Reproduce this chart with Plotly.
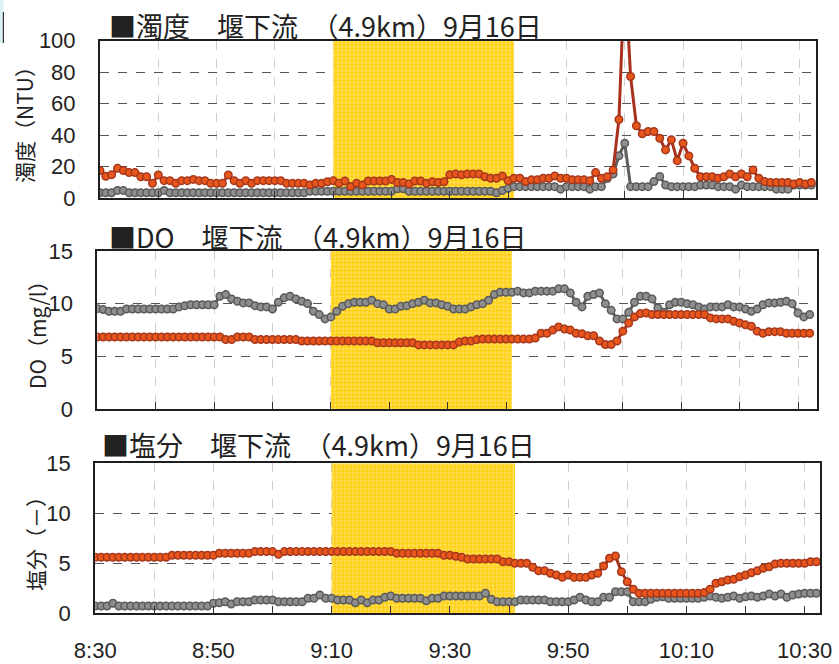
import plotly.graph_objects as go

# ---- time axis: one reading per minute from 8:30 ----
minutes = list(range(123))  # 8:30 ... 10:32
tick_minutes = list(range(0, 121, 10))
tick_text = ["8:30", "", "8:50", "", "9:10", "", "9:30", "", "9:50", "", "10:10", "", "10:30"]
shade_start, shade_end = 40, 71  # 9:10 - 9:41

# ---- 濁度 (NTU) ----
turbidity_a = [
    17.6, 14.0, 15.0, 19.0, 17.6, 16.3, 16.3, 13.7, 13.7, 9.5,
    14.8, 11.2, 11.2, 9.5, 11.2, 11.2, 12.0, 11.2, 11.2, 9.5,
    9.5, 9.5, 14.8, 11.2, 9.5, 11.2, 9.5, 11.2, 11.2, 11.2,
    11.2, 11.2, 9.5, 9.5, 9.5, 9.5, 8.5, 9.5, 9.5, 10.5,
    11.2, 9.5, 11.0, 7.5, 9.5, 8.5, 11.0, 11.0, 11.0, 11.0,
    12.0, 10.0, 10.0, 9.0, 11.0, 11.0, 9.5, 10.5, 10.0, 10.5,
    15.0, 15.4, 14.9, 15.4, 15.4, 15.4, 13.7, 12.7, 12.7, 14.2,
    11.2, 12.7, 12.7, 10.6, 11.7, 11.7, 12.7, 12.7, 14.2, 12.7,
    12.7, 11.7, 11.7, 11.7, 11.2, 16.3, 12.7, 13.7, 17.9, 50.0,
    145.0, 77.3, 46.0, 40.9, 42.4, 42.4, 38.1, 30.7, 37.1, 23.9,
    34.9, 26.9, 19.1, 13.7, 13.7, 13.7, 12.7, 13.7, 15.4, 13.7,
    15.4, 13.7, 17.9, 12.7, 10.6, 10.0, 10.0, 10.0, 10.0, 9.1,
    10.0, 9.1, 10.0,
]
turbidity_b = [
    3.5, 3.5, 3.5, 5.0, 5.0, 3.5, 3.5, 3.5, 3.5, 3.5,
    3.5, 5.0, 3.5, 3.5, 3.5, 3.5, 3.5, 3.5, 3.5, 3.5,
    3.5, 3.5, 3.5, 3.5, 3.5, 3.5, 3.5, 3.5, 3.5, 3.5,
    3.5, 3.5, 3.5, 3.5, 3.5, 3.5, 4.5, 4.5, 4.5, 4.5,
    4.5, 4.5, 4.5, 4.5, 4.5, 4.5, 4.5, 4.5, 4.5, 4.5,
    4.5, 6.0, 6.0, 4.5, 4.5, 4.5, 4.5, 4.5, 4.5, 4.5,
    4.5, 4.5, 4.5, 4.5, 4.5, 4.5, 4.5, 4.5, 3.5, 4.9,
    6.3, 7.4, 7.4, 7.4, 7.4, 7.4, 7.4, 7.4, 7.4, 5.8,
    7.4, 7.4, 7.4, 7.4, 5.8, 7.4, 7.4, 12.5, 15.4, 27.0,
    35.0, 7.4, 7.4, 7.4, 7.4, 10.6, 13.8, 8.4, 7.4, 7.4,
    7.4, 7.4, 7.4, 8.4, 8.4, 8.4, 7.4, 7.4, 7.4, 5.8,
    8.4, 7.4, 7.4, 7.4, 7.4, 7.4, 5.8, 5.8, 5.8, 8.4,
    8.4, 8.4, 8.4,
]

# ---- DO (mg/l) ----
do_a = [
    6.85, 6.85, 6.85, 6.85, 6.85, 6.85, 6.85, 6.85, 6.85, 6.85,
    6.85, 6.85, 6.85, 6.85, 6.85, 6.85, 6.85, 6.85, 6.85, 6.85,
    6.85, 6.85, 6.6, 6.6, 6.85, 6.85, 6.85, 6.6, 6.6, 6.6,
    6.6, 6.6, 6.6, 6.6, 6.6, 6.47, 6.47, 6.47, 6.47, 6.47,
    6.47, 6.47, 6.47, 6.47, 6.47, 6.47, 6.47, 6.47, 6.3, 6.3,
    6.3, 6.3, 6.3, 6.3, 6.3, 6.1, 6.1, 6.1, 6.1, 6.1,
    6.1, 6.1, 6.37, 6.47, 6.47, 6.6, 6.65, 6.65, 6.65, 6.65,
    6.65, 6.65, 6.65, 6.65, 6.65, 6.75, 7.2, 7.2, 7.5, 7.8,
    7.6, 7.5, 7.2, 7.15, 6.97, 6.97, 6.47, 6.14, 6.14, 6.47,
    7.4, 8.17, 8.75, 9.06, 9.12, 8.97, 8.97, 8.97, 8.97, 8.97,
    8.97, 8.97, 8.97, 8.97, 8.97, 8.65, 8.56, 8.56, 8.56, 8.33,
    8.17, 8.0, 7.86, 7.4, 7.2, 7.35, 7.35, 7.35, 7.2, 7.2,
    7.2, 7.2, 7.2,
]
do_b = [
    9.53, 9.44, 9.28, 9.28, 9.28, 9.5, 9.5, 9.5, 9.5, 9.5,
    9.5, 9.5, 9.5, 9.5, 9.69, 9.81, 9.9, 9.9, 9.9, 9.9,
    9.9, 10.7, 10.86, 10.45, 10.23, 10.07, 10.07, 9.81, 9.69, 9.69,
    9.5, 10.13, 10.55, 10.7, 10.45, 10.23, 10.01, 9.28, 8.97, 8.56,
    8.75, 9.28, 9.75, 10.0, 10.13, 10.13, 10.13, 10.32, 10.0, 9.9,
    9.5, 9.5, 9.75, 9.81, 10.0, 10.13, 10.32, 10.07, 10.07, 9.9,
    9.75, 9.5, 9.5, 9.5, 9.69, 9.9, 10.0, 10.32, 10.86, 11.08,
    11.08, 11.08, 11.18, 11.02, 11.02, 11.18, 11.18, 11.18, 11.18, 11.4,
    11.4, 11.02, 10.13, 9.69, 10.7, 10.86, 11.02, 10.0, 9.37, 8.56,
    8.56, 9.18, 10.13, 10.7, 10.7, 10.45, 9.59, 9.18, 9.9, 10.13,
    10.13, 10.0, 9.9, 9.69, 9.5, 9.69, 9.69, 9.69, 9.9, 9.69,
    9.69, 9.5, 9.28, 9.5, 9.9, 10.07, 10.07, 10.13, 10.23, 10.0,
    9.12, 8.75, 8.97,
]

# ---- 塩分 (-) ----
salinity_a = [
    5.6, 5.6, 5.6, 5.6, 5.6, 5.6, 5.6, 5.6, 5.6, 5.6,
    5.6, 5.6, 5.6, 5.8, 5.8, 5.8, 5.8, 5.8, 5.8, 5.8,
    5.8, 6.0, 6.0, 6.0, 6.0, 6.0, 6.0, 6.17, 6.17, 6.17,
    6.17, 5.9, 6.17, 6.17, 6.17, 6.17, 6.17, 6.17, 6.17, 6.17,
    6.17, 6.17, 6.17, 6.17, 6.17, 6.17, 6.17, 6.17, 6.17, 6.17,
    6.17, 6.0, 6.0, 6.0, 6.0, 6.0, 6.0, 6.0, 6.0, 5.8,
    5.8, 5.7, 5.6, 5.43, 5.43, 5.43, 5.43, 5.43, 5.43, 5.16,
    5.16, 5.0, 5.0, 5.0, 4.6, 4.26, 4.26, 4.0, 3.83, 3.6,
    3.83, 3.6, 3.6, 3.6, 3.83, 4.0, 4.73, 5.5, 5.73, 4.16,
    3.16, 2.4, 2.0, 2.0, 2.0, 2.0, 2.0, 2.0, 2.0, 2.0,
    2.0, 2.0, 2.0, 2.07, 2.4, 3.0, 3.16, 3.33, 3.4, 3.66,
    3.83, 4.06, 4.26, 4.5, 4.66, 4.93, 5.0, 5.0, 5.0, 5.0,
    5.0, 5.16, 5.16,
]
salinity_b = [
    0.73, 0.73, 0.73, 1.0, 0.73, 0.73, 0.73, 0.73, 0.73, 0.73,
    0.73, 0.73, 0.73, 0.73, 0.73, 0.73, 0.73, 0.73, 0.73, 0.73,
    1.0, 1.06, 1.16, 0.93, 1.16, 1.16, 1.16, 1.33, 1.33, 1.33,
    1.33, 1.16, 1.16, 1.16, 1.16, 1.16, 1.5, 1.5, 1.83, 1.5,
    1.5, 1.33, 1.33, 1.33, 1.06, 1.33, 1.06, 1.33, 1.33, 1.6,
    1.73, 1.5, 1.5, 1.5, 1.5, 1.5, 1.26, 1.5, 1.5, 1.73,
    1.73, 1.73, 1.73, 1.73, 1.73, 1.73, 2.0, 1.4, 1.16, 1.16,
    1.16, 1.16, 1.33, 1.33, 1.33, 1.33, 1.33, 1.16, 1.16, 1.16,
    1.16, 1.33, 1.6, 1.33, 1.16, 1.16, 1.6, 1.6, 2.16, 2.16,
    2.16, 1.16, 1.16, 1.16, 1.4, 1.6, 1.66, 1.5, 1.5, 1.5,
    1.5, 1.5, 1.5, 1.6, 1.73, 1.6, 1.5, 1.6, 1.73, 1.5,
    1.66, 1.73, 1.6, 1.73, 1.93, 1.73, 1.93, 1.6, 1.83, 1.93,
    2.0, 2.0, 2.0,
]

titles = [
    "■濁度　堰下流　（4.9km）9月16日",
    "■DO　堰下流　（4.9km）9月16日",
    "■塩分　堰下流　（4.9km）9月16日",
]
y_titles = ["濁度（NTU）", "DO（mg/l）", "塩分（－）"]

W, H = 839, 664
FONT = "Noto Sans CJK JP, Liberation Sans, sans-serif"
NUM_FONT = "Liberation Sans, Arial, sans-serif"

RED_LINE, RED_FILL, RED_EDGE = "#A8311E", "#E8561C", "#A5371C"
GRAY_LINE, GRAY_FILL, GRAY_EDGE = "#5E5E5E", "#8E8E8E", "#5A5A5A"
SHADE_BG, SHADE_DOT = "#FFCF14", "#FFF2A8"

# panel geometry in pixels: (left, right), (top, bottom), x extent (min), y max, y step
panels = [
    dict(xpx=(100, 816), ypx=(40.7, 198.3), xmax=122.8, ymax=100, dtick=20,
         a=turbidity_a, b=turbidity_b, title_xy=(107, 25), ylab_xy=(24, 120)),
    dict(xpx=(97.3, 817.3), ypx=(250.8, 409.4), xmax=123.3, ymax=15, dtick=5,
         a=do_a, b=do_b, title_xy=(107, 236), ylab_xy=(37, 330)),
    dict(xpx=(95.2, 820), ypx=(463.3, 613.3), xmax=122.6, ymax=15, dtick=5,
         a=salinity_a, b=salinity_b, title_xy=(100, 444), ylab_xy=(35, 539)),
]

fig = go.Figure()
annotations = []

for i, p in enumerate(panels):
    n = "" if i == 0 else str(i + 1)
    xa, ya = "x" + n, "y" + n

    # highlighted period
    fig.add_trace(go.Bar(
        x=[(shade_start + shade_end) / 2], y=[p["ymax"]], width=[shade_end - shade_start],
        marker=dict(color=SHADE_BG, line_width=0,
                    pattern=dict(shape=".", fgcolor=SHADE_DOT, bgcolor=SHADE_BG,
                                 size=4, solidity=0.4)),
        xaxis=xa, yaxis=ya, hoverinfo="skip", showlegend=False,
    ))
    # gray series
    fig.add_trace(go.Scatter(
        x=minutes, y=p["b"], mode="lines+markers", xaxis=xa, yaxis=ya, showlegend=False,
        line=dict(color=GRAY_LINE, width=3),
        marker=dict(size=7.5, color=GRAY_FILL, line=dict(color=GRAY_EDGE, width=1.5)),
    ))
    # red series
    fig.add_trace(go.Scatter(
        x=minutes, y=p["a"], mode="lines+markers", xaxis=xa, yaxis=ya, showlegend=False,
        line=dict(color=RED_LINE, width=3),
        marker=dict(size=7.5, color=RED_FILL, line=dict(color=RED_EDGE, width=1.5)),
    ))

    last = i == len(panels) - 1
    fig.layout["xaxis" + n] = dict(
        domain=[p["xpx"][0] / W, p["xpx"][1] / W], anchor=ya, range=[0, p["xmax"]],
        tickmode="array", tickvals=tick_minutes, ticktext=tick_text,
        showticklabels=last, ticks="inside", ticklen=7, tickwidth=1.3, tickcolor="#333",
        ticklabelstandoff=16, automargin=False,
        showgrid=True, gridcolor="#CFCFCF", griddash="dash", gridwidth=1,
        showline=True, mirror=True, linecolor="#1E1E1E", linewidth=2, zeroline=False,
        tickfont=dict(family=NUM_FONT, size=22, color="#222"),
    )
    fig.layout["yaxis" + n] = dict(
        domain=[1 - p["ypx"][1] / H, 1 - p["ypx"][0] / H], anchor=xa,
        range=[0, p["ymax"]], tickmode="linear", tick0=0, dtick=p["dtick"],
        ticks="", ticklabelstandoff=18, automargin=False,
        showgrid=True, gridcolor="#555555", griddash="dash", gridwidth=1,
        showline=True, mirror=True, linecolor="#1E1E1E", linewidth=2, zeroline=False,
        tickfont=dict(family=NUM_FONT, size=22, color="#222"),
    )

    annotations.append(dict(
        text=titles[i], xref="paper", yref="paper",
        x=p["title_xy"][0] / W, y=1 - p["title_xy"][1] / H,
        xanchor="left", yanchor="middle", showarrow=False,
        font=dict(family=FONT, size=27, color="#222"),
    ))
    annotations.append(dict(
        text=y_titles[i], xref="paper", yref="paper",
        x=p["ylab_xy"][0] / W, y=1 - p["ylab_xy"][1] / H,
        xanchor="center", yanchor="middle", showarrow=False, textangle=-90,
        font=dict(family=FONT, size=21, color="#222"),
    ))

fig.update_layout(
    width=W, height=H, margin=dict(l=0, r=0, t=0, b=0, autoexpand=False),
    paper_bgcolor="white", plot_bgcolor="white",
    barmode="overlay", annotations=annotations,
    shapes=[
        dict(type="rect", xref="paper", yref="paper", x0=0, x1=3.5 / W,
             y0=1 - 43 / H, y1=1, fillcolor="#DDF0F7", line_width=0, layer="above"),
        dict(type="line", xref="paper", yref="paper", x0=3.4 / W, x1=3.4 / W,
             y0=1 - 43 / H, y1=1 - 12 / H, line=dict(color="#333", width=1.2)),
    ],
)

fig.write_html("out.html")
